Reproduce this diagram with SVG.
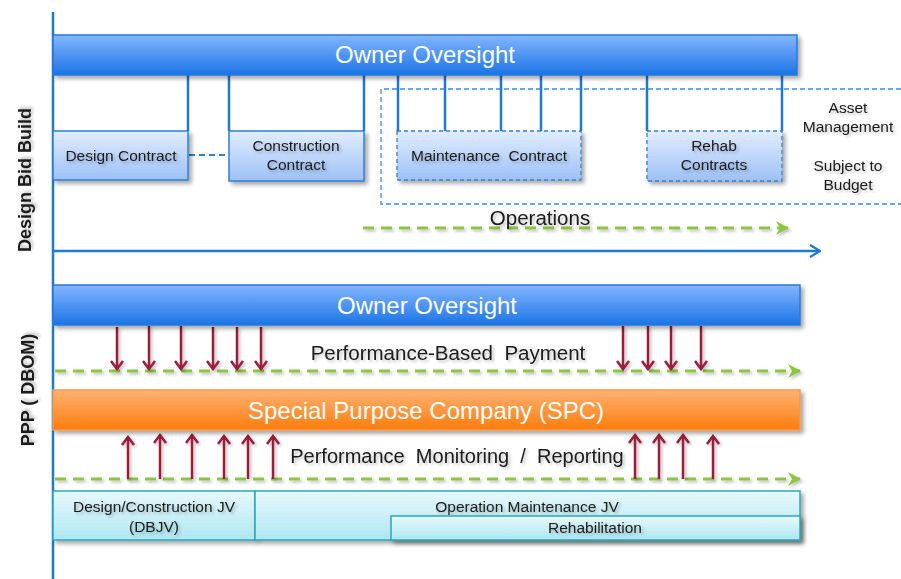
<svg xmlns="http://www.w3.org/2000/svg" width="901" height="579" viewBox="0 0 901 579">
  <defs>
    <linearGradient id="gBar" x1="0" y1="0" x2="0" y2="1">
      <stop offset="0" stop-color="#84b6ff"/>
      <stop offset="1" stop-color="#1b74e6"/>
    </linearGradient>
    <linearGradient id="gBox" x1="0" y1="0" x2="0" y2="1">
      <stop offset="0" stop-color="#e2edfe"/>
      <stop offset="1" stop-color="#9cc1f7"/>
    </linearGradient>
    <linearGradient id="gSpc" x1="0" y1="0" x2="0" y2="1">
      <stop offset="0" stop-color="#ffb272"/>
      <stop offset="1" stop-color="#ff7c0c"/>
    </linearGradient>
    <linearGradient id="gJv" x1="0" y1="0" x2="0" y2="1">
      <stop offset="0" stop-color="#e8f8fc"/>
      <stop offset="1" stop-color="#aee7f2"/>
    </linearGradient>
    <filter id="shadow" x="-10%" y="-30%" width="120%" height="170%">
      <feDropShadow dx="3" dy="3" stdDeviation="2" flood-color="#000" flood-opacity="0.35"/>
    </filter>
    <filter id="tshadow" x="-10%" y="-30%" width="120%" height="170%">
      <feDropShadow dx="2" dy="2" stdDeviation="1.5" flood-color="#000" flood-opacity="0.25"/>
    </filter>
    <filter id="lshadow" filterUnits="userSpaceOnUse" x="0" y="0" width="901" height="579">
      <feDropShadow dx="2" dy="2" stdDeviation="1.5" flood-color="#000" flood-opacity="0.25"/>
    </filter>
    <marker id="redHead" viewBox="0 0 14 14" refX="12" refY="7" markerWidth="14" markerHeight="14" markerUnits="userSpaceOnUse" orient="auto">
      <path d="M4,1 L12,7 L4,13" fill="none" stroke="#9b1b3a" stroke-width="2.5"/>
    </marker>
    <marker id="greenHead" viewBox="0 0 16 16" refX="14" refY="8" markerWidth="16" markerHeight="16" markerUnits="userSpaceOnUse" orient="auto">
      <path d="M2,1 L15,8 L2,15 L6,8 Z" fill="#8cc63f"/>
    </marker>
    <marker id="blueHead" viewBox="0 0 14 14" refX="13" refY="7" markerWidth="14" markerHeight="14" markerUnits="userSpaceOnUse" orient="auto">
      <path d="M3,1 L13,7 L3,13" fill="none" stroke="#1f78d1" stroke-width="2.2"/>
    </marker>
  </defs>
  <style>
    text { font-family: "Liberation Sans", Arial, sans-serif; fill: #1a1a1a; }
    .bar { fill: url(#gBar); stroke: #2a78d6; stroke-width: 1.5; filter: url(#shadow); }
    .box { fill: url(#gBox); stroke: #2f80d8; stroke-width: 1.5; filter: url(#shadow); }
    .dbox { fill: url(#gBox); stroke: #2f80d8; stroke-width: 1.3; stroke-dasharray: 4 3; filter: url(#shadow); }
    .spc { fill: url(#gSpc); stroke: #f59a4a; stroke-width: 1.5; filter: url(#shadow); }
    .jv { fill: url(#gJv); stroke: #2aa8b8; stroke-width: 1.5; filter: url(#shadow); }
    .link { stroke: #1f78d1; stroke-width: 2.5; fill: none; }
    .dlink { stroke: #2f80d8; stroke-width: 2; fill: none; stroke-dasharray: 6 4; }
    .frame { stroke: #3a8ade; stroke-width: 1.3; fill: none; stroke-dasharray: 5 3; }
    .green { stroke: #8cc63f; stroke-width: 3; fill: none; stroke-dasharray: 11 7; marker-end: url(#greenHead); }
    .red { stroke: #9b1b3a; stroke-width: 2.5; fill: none; marker-end: url(#redHead); }
    .white { fill: #ffffff; font-size: 24px; text-anchor: middle; }
    .lbl { font-size: 15.5px; text-anchor: middle; filter: url(#tshadow); }
    .mid { font-size: 20.5px; text-anchor: middle; filter: url(#tshadow); }
    .side { font-size: 18px; font-weight: bold; text-anchor: middle; filter: url(#tshadow); }
  </style>

  <!-- axes -->
  <g id="axes">
    <line x1="53" y1="12" x2="53" y2="579" stroke="#1f78d1" stroke-width="2.5"/>
    <line x1="53" y1="251" x2="820" y2="251" stroke="#1f78d1" stroke-width="2.5" marker-end="url(#blueHead)"/>
  </g>

  <!-- side labels -->
  <text class="side" transform="translate(31,180) rotate(-90)">Design Bid Build</text>
  <text class="side" transform="translate(34,390) rotate(-90)">PPP ( DBOM)</text>

  <!-- asset management frame -->
  <g id="asset-frame">
    <path class="frame" d="M901,89 H381 V204 H901"/>
    <text class="lbl" x="848" y="113">Asset</text>
    <text class="lbl" x="848" y="132">Management</text>
    <text class="lbl" x="848" y="171">Subject to</text>
    <text class="lbl" x="848" y="190">Budget</text>
  </g>

  <!-- connectors -->
  <g id="connectors">
    <!-- owner to contracts -->
    <line class="link" x1="188" y1="75" x2="188" y2="131"/>
    <line class="link" x1="229" y1="75" x2="229" y2="131"/>
    <line class="link" x1="364" y1="75" x2="364" y2="131"/>
    <line class="link" x1="398" y1="75" x2="398" y2="131"/>
    <line class="link" x1="445" y1="75" x2="445" y2="131"/>
    <line class="link" x1="501" y1="75" x2="501" y2="131"/>
    <line class="link" x1="541" y1="75" x2="541" y2="131"/>
    <line class="link" x1="581" y1="75" x2="581" y2="131"/>
    <line class="link" x1="647" y1="75" x2="647" y2="131"/>
    <line class="link" x1="782" y1="75" x2="782" y2="131"/>
    <line class="dlink" x1="189" y1="155" x2="229" y2="155"/>

    <!-- timelines -->
    <g filter="url(#lshadow)">
      <line class="green" x1="363" y1="228" x2="788" y2="228"/>
      <line class="green" x1="55" y1="371" x2="800" y2="371"/>
      <line class="green" x1="55" y1="479" x2="800" y2="479"/>
    </g>

    <g filter="url(#lshadow)">
      <!-- payments -->
      <line class="red" x1="117" y1="327" x2="117" y2="369"/>
      <line class="red" x1="149" y1="326" x2="149" y2="369"/>
      <line class="red" x1="181" y1="326" x2="181" y2="369"/>
      <line class="red" x1="213" y1="327" x2="213" y2="369"/>
      <line class="red" x1="237" y1="327" x2="237" y2="369"/>
      <line class="red" x1="261" y1="327" x2="261" y2="369"/>
      <line class="red" x1="623" y1="326" x2="623" y2="369"/>
      <line class="red" x1="648" y1="326" x2="648" y2="369"/>
      <line class="red" x1="671" y1="326" x2="671" y2="369"/>
      <line class="red" x1="701" y1="326" x2="701" y2="369"/>

      <!-- monitoring / reporting -->
      <line class="red" x1="128" y1="479" x2="128" y2="437"/>
      <line class="red" x1="160" y1="479" x2="160" y2="435"/>
      <line class="red" x1="192" y1="479" x2="192" y2="435"/>
      <line class="red" x1="224" y1="479" x2="224" y2="436"/>
      <line class="red" x1="248" y1="479" x2="248" y2="436"/>
      <line class="red" x1="273" y1="479" x2="273" y2="436"/>
      <line class="red" x1="635" y1="479" x2="635" y2="435"/>
      <line class="red" x1="659" y1="479" x2="659" y2="435"/>
      <line class="red" x1="683" y1="479" x2="683" y2="435"/>
      <line class="red" x1="713" y1="479" x2="713" y2="436"/>
    </g>
  </g>

  <!-- design bid build -->
  <g id="owner-dbb">
    <rect class="bar" x="53" y="35" width="744" height="40"/>
    <text class="white" x="425" y="63">Owner Oversight</text>
  </g>
  <g id="design-contract">
    <rect class="box" x="53" y="131" width="135" height="49"/>
    <text class="lbl" x="121" y="161">Design Contract</text>
  </g>
  <g id="construction-contract">
    <rect class="box" x="229" y="131" width="135" height="50"/>
    <text class="lbl" x="296" y="151">Construction</text>
    <text class="lbl" x="296" y="170">Contract</text>
  </g>
  <g id="maintenance-contract">
    <rect class="dbox" x="397" y="131" width="184" height="49"/>
    <text class="lbl" x="489" y="161" xml:space="preserve">Maintenance  Contract</text>
  </g>
  <g id="rehab-contracts">
    <rect class="dbox" x="647" y="131" width="135" height="50"/>
    <text class="lbl" x="714" y="151">Rehab</text>
    <text class="lbl" x="714" y="170">Contracts</text>
  </g>
  <text class="mid" x="540" y="225">Operations</text>

  <!-- ppp -->
  <g id="owner-ppp">
    <rect class="bar" x="53" y="285" width="747" height="40"/>
    <text class="white" x="427" y="314">Owner Oversight</text>
  </g>
  <text class="mid" x="448" y="360" xml:space="preserve">Performance-Based  Payment</text>
  <g id="spc">
    <rect class="spc" x="53" y="390" width="747" height="40"/>
    <text class="white" x="426" y="419">Special Purpose Company (SPC)</text>
  </g>
  <text class="mid" x="457" y="463" style="font-size:20px" xml:space="preserve">Performance  Monitoring  /  Reporting</text>

  <g id="dbjv">
    <rect class="jv" x="53" y="491" width="202" height="49"/>
    <text class="lbl" x="154" y="512">Design/Construction JV</text>
    <text class="lbl" x="154" y="532">(DBJV)</text>
  </g>
  <g id="om-jv">
    <rect class="jv" x="255" y="491" width="545" height="49"/>
    <text class="lbl" x="527" y="512">Operation Maintenance JV</text>
  </g>
  <g id="rehabilitation">
    <rect class="jv" x="391" y="516" width="409" height="24"/>
    <text class="lbl" x="595" y="533">Rehabilitation</text>
  </g>
</svg>
